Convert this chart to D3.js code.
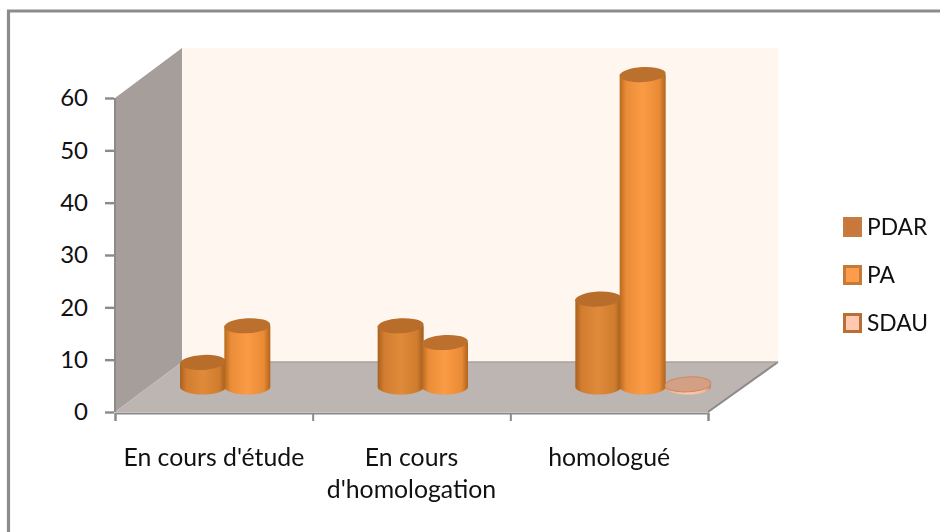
<!DOCTYPE html>
<html><head><meta charset="utf-8">
<script src="https://cdnjs.cloudflare.com/ajax/libs/d3/7.8.5/d3.min.js"></script>
<style>html,body{margin:0;padding:0;background:#fff}svg{display:block}text{font-family:Lato,"Open Sans",sans-serif;fill:#111}</style>
</head><body><svg id="c" width="940" height="532"></svg>
<script>
const categories = [["En cours d'étude"], ["En cours", "d'homologation"], ["homologué"]];
const seriesNames = ["PDAR", "PA", "SDAU"];
const PDAR = [4.7, 11.7, 16.8];
const PA = [11.7, 8.5, 59.7];
const SDAU = [0, 0, 0.5];
const yTicks = [0, 10, 20, 30, 40, 50, 60];
const swatchFill = ["#c9773a", "#ff9c4c", "#ffc8b0"];
const swatchStroke = ["#c47c42", "#c67a38", "#b96f34"];
const bodyStops = [["#a8611f", "#d27d30", "#e08a3a", "#cf7c2e", "#a05c1c"],
                   ["#b8691f", "#ea8c38", "#fb9b45", "#e98a35", "#b0631d"],
                   ["#d9906a", "#f5b899", "#ffc8ae", "#f5b899", "#c98058"]];
const topFill = ["#b86e2c", "#bb702e", "#d3a086"];
const topStroke = ["none", "none", "#c98a62"];

const svg = d3.select("#c");
const M = {x0:115, x1:708, y0:412, y1:98, dx:67, dy:50};
const x = d3.scaleBand().domain(d3.range(categories.length)).range([M.x0, M.x1]);
const xEdge = d3.scaleLinear().domain([0, categories.length]).range([M.x0, M.x1]);
const y = d3.scaleLinear().domain([0, 60]).range([M.y0, M.y1]);
const seriesBand = d3.scaleBand().domain(d3.range(3)).range([-68, 68]);
const line = d3.line();

const defs = svg.append("defs");
defs.append("filter").attr("id","soft").append("feGaussianBlur").attr("stdDeviation",0.7);
bodyStops.forEach((s,i)=>{
  const g = defs.append("linearGradient").attr("id","b"+i);
  s.forEach((c,k)=>g.append("stop").attr("offset",[0,.14,.5,.86,1][k]).attr("stop-color",c));
});

// frame: the reference shows only its top and left edges
svg.append("path").attr("d","M8.5,532V11H940").attr("fill","none")
  .attr("stroke","#8c8c8c").attr("stroke-width",3.2);

const yTop = y(60), yBot = y(0);
// walls
svg.append("path").attr("d",line([[M.x0+M.dx,yTop-M.dy],[M.x1+70,yTop-M.dy],[M.x1+70,yBot-M.dy],[M.x0+M.dx,yBot-M.dy]])+"Z").attr("fill","#fff6ef");
svg.append("path").attr("d",line([[M.x0,yTop],[M.x0+M.dx,yTop-M.dy],[M.x0+M.dx,yBot-M.dy],[M.x0,yBot]])+"Z").attr("fill","#a69e9b");
svg.append("path").attr("d",line([[M.x0,yBot],[M.x0+M.dx,yBot-M.dy],[M.x1+70,yBot-M.dy],[M.x1,yBot]])+"Z").attr("fill","#bdb5b1");
svg.append("path").attr("d",line([[M.x0,yTop],[M.x0,yBot]])).attr("stroke","#8e8a88").attr("stroke-width",2);
svg.append("path").attr("d",line([[M.x1,yBot],[M.x1+70,yBot-M.dy]])).attr("stroke","#8a8a8a").attr("stroke-width",2).attr("fill","none");
svg.append("path").attr("d",line([[M.x0+M.dx,yBot-M.dy],[M.x1+70,yBot-M.dy]])).attr("stroke","#a8a29f").attr("stroke-width",1.5);

// axes
const ay = svg.append("g").attr("transform",`translate(${M.x0-1},0)`)
  .call(d3.axisLeft(y).tickValues(yTicks).tickSize(9).tickPadding(17).tickFormat(d3.format("d")));
ay.select(".domain").remove();
ay.selectAll("line").attr("stroke","#8a8a8a").attr("stroke-width",2.4);
ay.selectAll("text").attr("font-size",24).attr("fill","#111").style("font-family","Lato");

const ax = svg.append("g").attr("transform",`translate(0,${yBot+1})`)
  .call(d3.axisBottom(xEdge).tickValues(d3.range(categories.length+1)).tickSize(8).tickFormat(""));
ax.select(".domain").attr("stroke","#8a8a8a").attr("stroke-width",2);
ax.selectAll("line").attr("stroke","#8a8a8a").attr("stroke-width",2);

// cylinders
const rx = 23, ry = 7.5;
const marks = svg.append("g").attr("filter","url(#soft)");
[PDAR, PA, SDAU].forEach((vals,si)=>{
  vals.forEach((v,ci)=>{
    if(v<=0) return;
    const cx = x(ci)+x.bandwidth()/2+M.dx/2 + seriesBand(si)+seriesBand.bandwidth()/2 + (si==0?1:0);
    const by = yBot - M.dy/2, h = yBot - y(v), ty = by - h;
    marks.append("path")
      .attr("d",`M${cx-rx},${ty} L${cx-rx},${by} A${rx},${ry} 0 0 0 ${cx+rx},${by} L${cx+rx},${ty} Z`)
      .attr("fill",`url(#b${si})`);
    marks.append("ellipse").attr("cx",cx).attr("cy",ty).attr("rx",rx).attr("ry",ry)
      .attr("transform",`rotate(-3 ${cx} ${ty})`).attr("fill",topFill[si]).attr("stroke",topStroke[si]);
  });
});

// category labels
categories.forEach((lines,i)=>{
  const t = svg.append("text").attr("x",x(i)+x.bandwidth()/2).attr("y",466).attr("text-anchor","middle").attr("font-size",24.8);
  lines.forEach((s,k)=>t.append("tspan").attr("x",x(i)+x.bandwidth()/2).attr("dy",k?32:0).text(s));
});

// legend
const leg = d3.scalePoint().domain(seriesNames).range([227,323]);
seriesNames.forEach((n,i)=>{
  svg.append("rect").attr("x",844.5).attr("y",leg(n)-8.5).attr("width",16).attr("height",17)
    .attr("fill",swatchFill[i]).attr("stroke",swatchStroke[i]).attr("stroke-width",3);
  svg.append("text").attr("x",867).attr("y",leg(n)+8).attr("font-size",22.8).text(n);
});
</script></body></html>
